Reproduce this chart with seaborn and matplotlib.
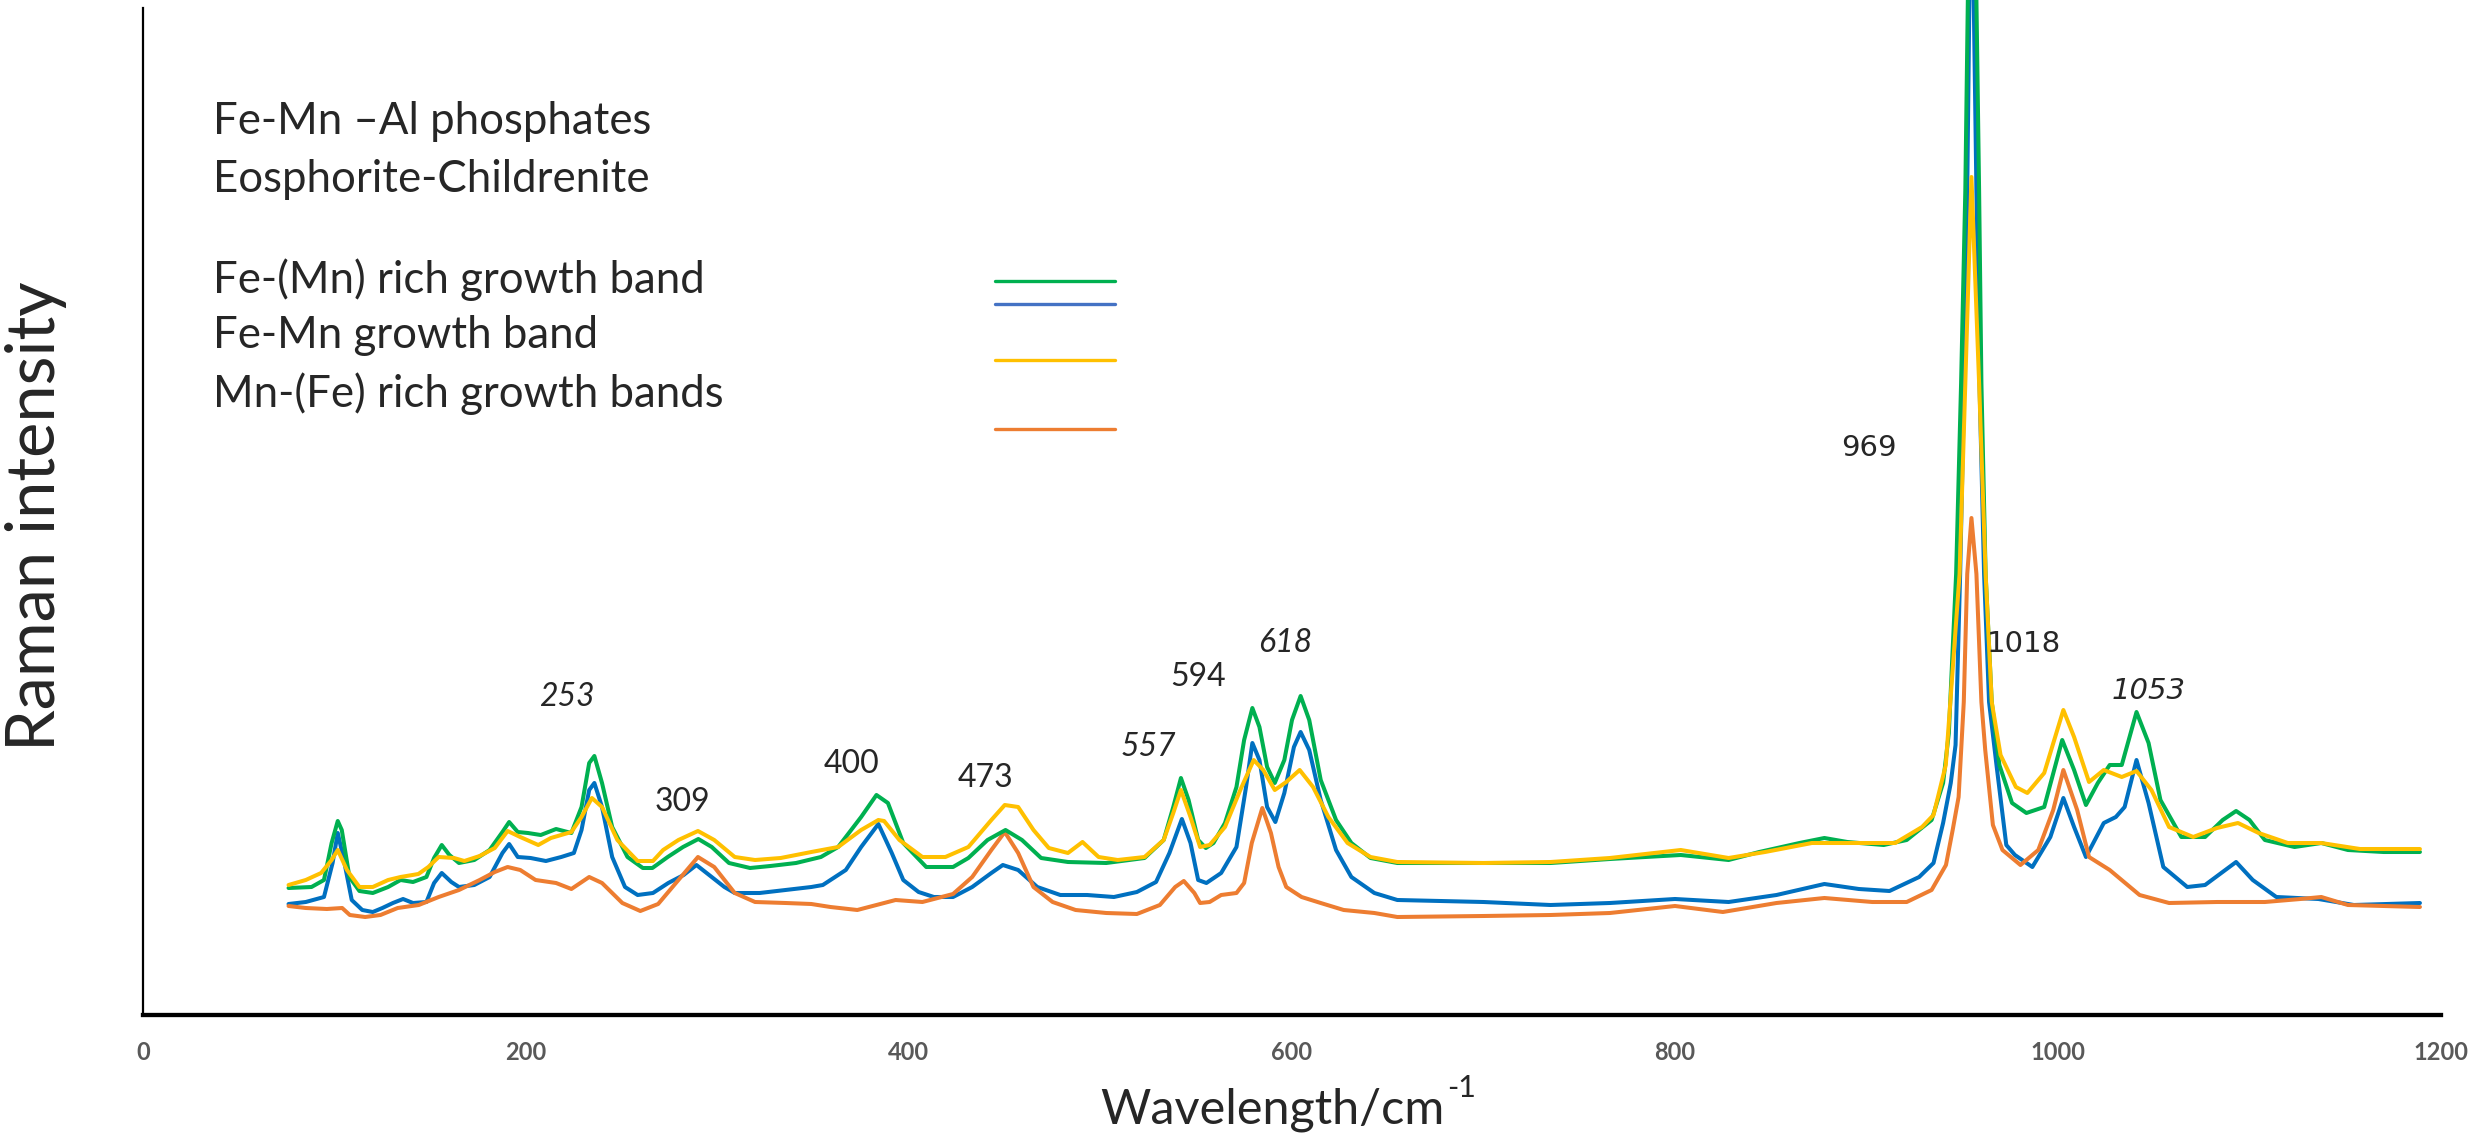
import matplotlib
matplotlib.use("Agg")
import matplotlib.pyplot as plt
import seaborn as sns
from matplotlib.ticker import MultipleLocator

# Raman spectra (x in cm-1, intensity in arbitrary units)
green_x = [76, 88, 94.5, 98.5, 101.7, 103.8, 107.8, 113, 120, 128,
           134.5, 141, 148, 152, 156, 160, 165, 173, 181, 187.7,
           191.2, 195.7, 201, 207.7, 215.7, 223.7, 229, 233, 235.7, 239.7,
           245, 253, 261, 266, 274, 282, 290, 297, 306, 317,
           327.6, 341, 354, 363, 375, 383, 389, 397, 409, 423,
           431, 441, 450.4, 459, 469, 483, 503, 523, 533, 538,
           542, 546, 551, 555, 559, 565, 571, 575, 579.3, 583,
           587, 591, 596, 600, 604.5, 609, 615, 623, 631, 641,
           655, 700, 735, 766, 803, 828, 844, 865, 878, 890,
           909, 921, 934, 940, 943, 946.8, 949.4, 951.6, 952.9, 955,
           957.4, 958.8, 960, 962.2, 965.4, 969.4, 976, 983.5, 992.8, 1002.2,
           1008.4, 1014.6, 1020.8, 1027, 1033.3, 1041, 1047.3, 1053.5, 1064.4, 1076.8,
           1086, 1093, 1100, 1108, 1123.5, 1137.5, 1151.4, 1170, 1189]
green_y = [127, 128, 135, 172, 194, 185, 138, 124, 122, 128,
           135, 133, 138, 157, 170, 160, 152, 155, 165, 183,
           193, 183, 182, 180, 186, 182, 208, 252, 259, 232,
           188, 158, 147, 147, 158, 168, 176, 168, 152, 147,
           149, 152, 158, 168, 198, 220, 212, 172, 148, 148,
           157, 175, 185, 175, 157, 153, 152, 157, 175, 208,
           237, 215, 175, 167, 172, 192, 228, 275, 307, 288,
           248, 232, 255, 295, 319, 295, 235, 195, 172, 157,
           152, 152, 152, 156, 160, 155, 163, 172, 177, 173,
           170, 175, 195, 232, 282, 441, 632, 824, 1015, 1100,
           1015, 824, 632, 441, 313, 250, 212, 202, 208, 275,
           245, 210, 232, 250, 250, 303, 272, 215, 178, 178,
           195, 204, 195, 175, 168, 172, 165, 163, 163]

blue_x = [76, 85, 94.5, 99, 101.7, 105.2, 109, 114.5, 120, 125,
          130.5, 135.8, 141, 148, 152, 156, 161, 165, 173, 181,
          187.7, 191.2, 195.7, 202.4, 210.4, 218.4, 225, 229, 233, 235.7,
          239.7, 245, 251.7, 258.3, 266.3, 274.3, 282.3, 289, 295.6, 303.6,
          309, 322, 335.6, 349, 355, 367, 375, 384, 391, 397,
          405, 413, 423, 433, 443, 449, 457, 467, 479, 493,
          507, 519, 529, 536, 542.5, 547, 551, 555.3, 563, 571,
          576, 579.3, 583, 587, 591.3, 596, 601, 604.5, 609, 615,
          623, 631, 643, 655, 700, 735, 766, 800, 828, 853,
          878, 896, 912, 927.5, 935, 940, 944, 946.5, 948.9, 951,
          952.6, 953.7, 955, 956, 957.4, 959, 961.4, 964, 968, 973,
          977.5, 986.6, 996, 1002.8, 1008.4, 1014.6, 1023.9, 1030.2, 1034.8, 1041,
          1047.3, 1055, 1067.5, 1076.8, 1086, 1093, 1101.7, 1114, 1136, 1154.5,
          1189]
blue_y = [111, 113, 118, 152, 182, 152, 115, 105, 103, 107,
          112, 116, 112, 113, 132, 142, 133, 128, 130, 138,
          162, 171, 158, 157, 154, 158, 162, 185, 225, 232,
          208, 158, 128, 120, 122, 132, 140, 150, 140, 128,
          122, 122, 125, 128, 130, 145, 168, 191, 162, 135,
          123, 118, 118, 128, 142, 150, 145, 128, 120, 120,
          118, 123, 133, 162, 196, 172, 135, 132, 142, 168,
          228, 272, 255, 208, 193, 222, 268, 283, 265, 215,
          165, 138, 122, 115, 113, 110, 112, 116, 113, 120,
          131, 126, 124, 138, 152, 192, 232, 270, 441, 632,
          824, 1015, 1080, 1015, 824, 632, 441, 313, 248, 170,
          160, 148, 178, 217, 188, 158, 192, 198, 208, 255,
          212, 148, 128, 130, 143, 153, 135, 118, 116, 110,
          112]

yellow_x = [76, 85, 93, 98.5, 101.7, 106.5, 113, 120, 128, 134.5,
            143.8, 149, 154.4, 162.4, 167.8, 175.8, 183.7, 190.4, 197, 206.4,
            213, 223.7, 229, 234.4, 239.7, 247.7, 258.3, 266.3, 271.6, 279.6,
            289.8, 298.3, 309, 319.6, 333, 349, 363, 375, 384, 387,
            395, 407, 419, 431, 443, 450, 457, 465, 473, 483,
            490.6, 499, 509, 523, 533, 538, 542, 547, 552, 557,
            565, 573, 580, 585, 591, 597, 604, 611, 619, 629,
            641, 655, 700, 735, 766, 803, 828, 847, 871.5, 890,
            915, 929, 935, 941.4, 948.6, 951.6, 954.8, 958.8, 962.2, 965.4,
            970, 978, 984, 992.8, 1002.8, 1008.4, 1016.2, 1023.9, 1033.3, 1041,
            1048.8, 1058, 1070.6, 1083, 1094, 1104.8, 1120, 1137.5, 1157.7, 1189]
yellow_y = [130, 135, 142, 155, 165, 145, 128, 128, 135, 138,
            141, 148, 158, 157, 154, 159, 167, 184, 178, 170,
            177, 183, 198, 217, 208, 175, 154, 154, 165, 175,
            184, 175, 158, 155, 157, 163, 168, 185, 195, 194,
            175, 158, 158, 168, 195, 210, 208, 185, 167, 162,
            173, 158, 155, 158, 175, 202, 225, 198, 168, 170,
            188, 225, 255, 245, 225, 233, 245, 228, 198, 172,
            158, 153, 152, 153, 157, 165, 157, 163, 172, 172,
            172, 188, 200, 250, 441, 632, 838, 632, 441, 313,
            260, 228, 222, 242, 305, 278, 233, 245, 238, 244,
            225, 188, 178, 187, 192, 182, 172, 172, 166, 166]

orange_x = [76, 85, 96, 104, 108, 116, 124, 133, 144, 154.4,
            165, 175.8, 183.7, 190.4, 197, 205, 215.7, 223.7, 233, 239.7,
            250.3, 259.7, 269, 279.6, 289.8, 298.3, 309, 319.6, 335.6, 349,
            359, 373, 383, 393, 407, 423, 433, 443, 450, 457,
            465, 475, 487, 503, 519, 531, 539, 543.5, 549, 552,
            557, 563, 571, 575, 579, 584.5, 589, 593, 597, 605,
            615, 627, 643, 655, 700, 735, 766, 800, 825, 853,
            878, 903, 921, 934, 941.5, 945, 948.1, 950.8, 952.6, 954.8,
            957.4, 960, 962, 966, 971, 980.4, 989.7, 997.5, 1002.8, 1010,
            1016.2, 1027, 1042.6, 1058, 1083, 1108, 1126.6, 1137.5, 1151.4, 1189]
orange_y = [109, 107, 106, 107, 100, 98, 100, 107, 110, 118,
            125, 135, 143, 148, 145, 135, 132, 126, 138, 132,
            112, 104, 111, 135, 158, 148, 122, 113, 112, 111,
            108, 105, 110, 115, 113, 121, 138, 165, 183, 162,
            128, 113, 105, 102, 101, 110, 128, 134, 122, 112,
            113, 120, 122, 132, 172, 207, 182, 148, 128, 118,
            112, 105, 102, 98, 99, 100, 102, 109, 103, 112,
            117, 113, 113, 125, 150, 185, 218, 313, 441, 497,
            441, 313, 265, 190, 165, 150, 165, 205, 245, 205,
            158, 145, 120, 112, 113, 113, 116, 118, 110, 108]

# band labels
peak_labels = ["253", "309", "400", "473", "557", "594", "618", "969", "1018", "1053"]
peak_label_x = [221.5, 281.8, 370.2, 440, 525, 551, 596.5, 901.5, 982, 1047.5]
peak_label_y = [318, 213, 251, 237, 268, 338, 372, 567, 371, 324]
peak_italic = ["253", "557", "618", "1053"]
peak_wide_font = ["969", "1018", "1053"]

title_lines = ["Fe-Mn \u2013Al phosphates", "Eosphorite-Childrenite"]
key_labels = ["Fe-(Mn) rich growth band", "Fe-Mn growth band", "Mn-(Fe) rich growth bands"]

# styling
W, H = 2484, 1139
c_green, c_blue, c_yellow, c_orange = "#00B050", "#0070C0", "#FFC000", "#ED7D31"
key_colors = ["#00B050", "#4472C4", "#FFC000", "#ED7D31"]

sns.set_style("white")
plt.rcParams['font.family'] = ['Lato', 'DejaVu Sans']

fig = plt.figure(figsize=(W / 100, H / 100), dpi=100)
ax = fig.add_axes([143 / W, 1 - 1015 / H, (2441 - 143) / W, (1015 - 8) / H])

for xs, ys, col in [(blue_x, blue_y, c_blue), (orange_x, orange_y, c_orange),
                    (green_x, green_y, c_green), (yellow_x, yellow_y, c_yellow)]:
    sns.lineplot(x=xs, y=ys, ax=ax, color=col, lw=2.9, estimator=None, sort=False)
for ln in ax.lines:
    ln.set_clip_on(False)

ax.set_xlim(0, 1200)
ax.set_ylim(0, 1007)
ax.set_xlabel("")
ax.set_ylabel("")
ax.set_yticks([])

ax.spines['top'].set_visible(False)
ax.spines['right'].set_visible(False)
ax.spines['left'].set_linewidth(1.6)
ax.spines['left'].set_color('black')
ax.spines['bottom'].set_linewidth(3.1)
ax.spines['bottom'].set_color('black')

ax.xaxis.set_major_locator(MultipleLocator(200))
ax.xaxis.set_minor_locator(MultipleLocator(40))
ax.tick_params(axis='x', which='major', direction='out', length=4.5, width=1.5,
               color='black', pad=14, labelsize=17, labelcolor='#595959')
ax.tick_params(axis='x', which='minor', direction='out', length=3.2, width=1.5, color='black')
for lab in ax.get_xticklabels():
    lab.set_fontweight('bold')

# axis titles (superscript drawn as a hyphen, as in the original)
renderer = fig.canvas.get_renderer()
xl = fig.text(1100 / W, 1 - 1123 / H, "Wavelength/cm", fontsize=35,
              ha='left', va='baseline')
bb = xl.get_window_extent(renderer=renderer)
fig.text((bb.x1 + 3) / W, 1 - 1097 / H, "-1", fontsize=22, ha='left', va='baseline')
fig.text(36 / W, 1 - 516 / H, "Raman intensity", rotation=90, fontsize=48,
         ha='center', va='center')

# band labels
for s, x, y in zip(peak_labels, peak_label_x, peak_label_y):
    fam = 'DejaVu Sans' if s in peak_wide_font else 'Lato'
    size = 21 if s in peak_wide_font else 23
    ax.text(x, y, s, ha='center', va='center', fontsize=size, family=fam,
            style='italic' if s in peak_italic else 'normal')

# title block and key
for s, ypx in zip(title_lines, [121, 180]):
    fig.text(213 / W, 1 - ypx / H, s, fontsize=31.5, ha='left', va='center')
for s, ypx in zip(key_labels, [280, 336, 394]):
    fig.text(213 / W, 1 - ypx / H, s, fontsize=31.5, ha='left', va='center')

key_x = [(995 - 143) / 2298, (1115 - 143) / 2298]
for col, ypx in zip(key_colors, [280.5, 303.5, 360, 428.5]):
    yy = (1015 - ypx) / 1007
    ax.plot(key_x, [yy, yy], color=col, lw=2.4, transform=ax.transAxes, clip_on=False)

fig.savefig("out.png", dpi=100)
